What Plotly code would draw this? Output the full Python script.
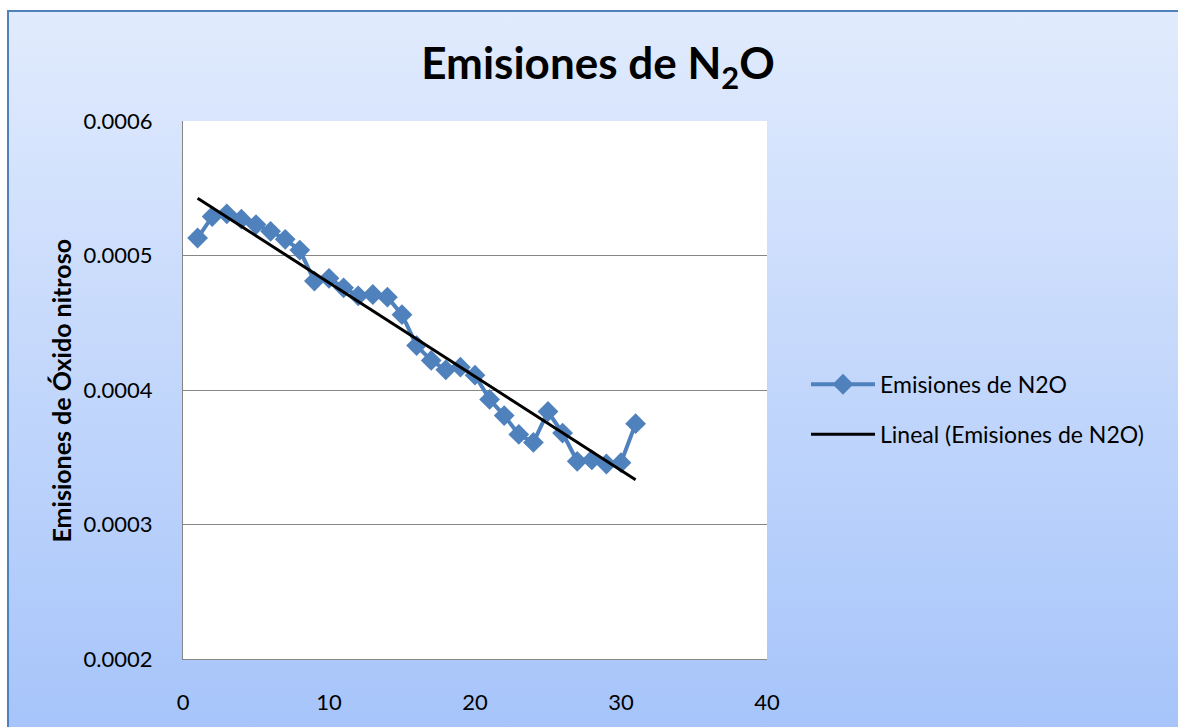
import base64
import numpy as np
import plotly.graph_objects as go

# Annual nitrous oxide emissions (period index and value)
periodo = list(range(1, 32))
emisiones_n2o = [
    0.000513, 0.000529, 0.000531, 0.000527, 0.000523, 0.000518, 0.000512,
    0.000504, 0.000481, 0.000483, 0.000476, 0.000470, 0.000471, 0.000469,
    0.000456, 0.000433, 0.000422, 0.000415, 0.000417, 0.000411, 0.000393,
    0.000381, 0.000367, 0.000361, 0.000384, 0.000368, 0.000347, 0.000348,
    0.000345, 0.000346, 0.000375,
]
x_ticks = [0, 10, 20, 30, 40]
y_ticks = [0.0002, 0.0003, 0.0004, 0.0005, 0.0006]

# Linear trend line
coef = np.polyfit(periodo, emisiones_n2o, 1)
tendencia = np.polyval(coef, periodo)

W, H = 1178, 727
L, R, T, B = 183, 767, 121, 664  # plot area in pixels
PW, PH = R - L, B - T


def px(x):
    return (x - L) / PW


def py(y):
    return (B - y) / PH


FONT = "Lato"
BLUE = "#4F81BD"
GRID = "#868686"

# Vertical gradient for the chart frame
svg = (
    '<svg xmlns="http://www.w3.org/2000/svg" width="100" height="100" '
    'preserveAspectRatio="none" viewBox="0 0 100 100">'
    '<defs><linearGradient id="g" x1="0" y1="0" x2="0" y2="1">'
    '<stop offset="0" stop-color="#E1EBFD"/>'
    '<stop offset="1" stop-color="#A6C4FA"/>'
    '</linearGradient></defs>'
    '<rect width="100" height="100" fill="url(#g)"/></svg>'
)
grad_uri = "data:image/svg+xml;base64," + base64.b64encode(svg.encode()).decode()

fig = go.Figure()
fig.add_trace(go.Scatter(
    x=periodo, y=emisiones_n2o, mode="lines+markers",
    name="Emisiones de N2O",
    line=dict(color=BLUE, width=4),
    marker=dict(symbol="diamond", size=16, color=BLUE),
    legendgroup="a",
))
fig.add_trace(go.Scatter(
    x=periodo, y=tendencia, mode="lines",
    name="Lineal (Emisiones de N2O)",
    line=dict(color="black", width=3),
    legendgroup="b",
))

fig.update_layout(
    width=W, height=H,
    autosize=False,
    margin=dict(l=L, r=W - R, t=T, b=H - B, pad=0),
    paper_bgcolor="white",
    plot_bgcolor="white",
    font=dict(family=FONT, size=22, color="black"),
    title=dict(
        text="<b>Emisiones de N<sub>2</sub>O</b>",
        font=dict(family=FONT, size=44, color="black"),
        x=598 / W, xref="container", xanchor="center",
        y=1 - 64 / H, yref="container", yanchor="middle",
    ),
    xaxis=dict(
        range=[0, 40], tickvals=x_ticks, ticktext=[str(v) for v in x_ticks],
        showgrid=False, zeroline=False, showline=True, linecolor=GRID,
        linewidth=1, ticks="", ticklabelstandoff=24,
        tickfont=dict(family=FONT, size=22),
    ),
    yaxis=dict(
        range=[0.0002, 0.0006], tickvals=y_ticks,
        ticktext=[f"{v:.4f}" for v in y_ticks],
        showgrid=True, gridcolor=GRID, gridwidth=1, zeroline=False,
        showline=True, linecolor=GRID, linewidth=1, ticks="",
        ticklabelstandoff=25,
        tickfont=dict(family=FONT, size=22),
    ),
    legend=dict(
        x=px(806), y=py(412), xanchor="left", yanchor="middle",
        bgcolor="rgba(0,0,0,0)", font=dict(family=FONT, size=23),
        traceorder="grouped", tracegroupgap=17, itemwidth=64,
    ),
    images=[dict(
        source=grad_uri, xref="paper", yref="paper",
        x=px(8), y=py(10), sizex=px(1200) - px(8), sizey=py(10) - py(740),
        xanchor="left", yanchor="top", sizing="stretch", layer="below",
    )],
    shapes=[
        dict(type="rect", xref="paper", yref="paper", x0=0, x1=1, y0=0, y1=1,
             fillcolor="white", line=dict(width=0), layer="below"),
        dict(type="rect", xref="paper", yref="paper",
             x0=px(8), x1=px(1220), y0=py(760), y1=py(10),
             fillcolor="rgba(0,0,0,0)", line=dict(color=BLUE, width=2),
             layer="below"),
    ],
    annotations=[dict(
        text="<b>Emisiones de Óxido nitroso</b>", textangle=-90,
        xref="paper", yref="paper", x=px(61), y=py(393),
        xanchor="center", yanchor="middle", showarrow=False,
        font=dict(family=FONT, size=25, color="black"),
    )],
)

fig.write_html("out.html")
